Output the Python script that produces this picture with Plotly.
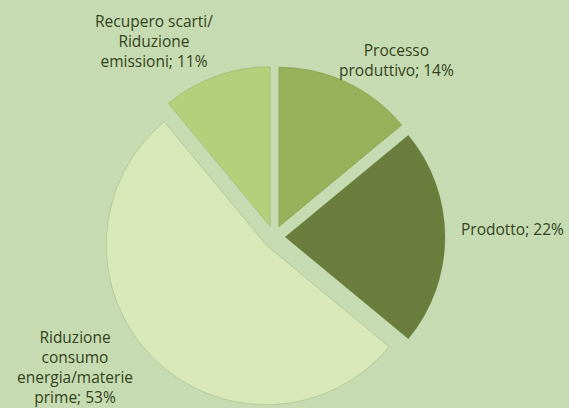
import plotly.graph_objects as go

# Slices, clockwise from 12 o'clock
labels = ["Processo produttivo", "Prodotto", "Riduzione consumo energia/materie prime", "Recupero scarti/ Riduzione emissioni"]
values = [14, 22, 53, 11]
colors = ["#97b05a", "#6a7d3c", "#d9e8b8", "#b5d07a"]

# Wrapped label lines (as printed next to each slice)
label_lines = [
    ["Processo", "produttivo; {v}%"],
    ["Prodotto; {v}%"],
    ["Riduzione", "consumo", "energia/materie", "prime; {v}%"],
    ["Recupero scarti/", "Riduzione", "emissioni; {v}%"],
]
label_pos = [(0.697, 0.852), (0.900, 0.439), (0.132, 0.100), (0.271, 0.8995)]

BG = "#c6dbb1"
TEXT = "#34421e"

W, H = 569, 408

fig = go.Figure(go.Pie(
    labels=labels,
    values=values,
    sort=False,
    direction="clockwise",
    rotation=0,
    pull=[0.07] * len(values),
    marker=dict(colors=colors, line=dict(color="rgba(90,110,50,0.35)", width=0.6)),
    textinfo="none",
    hoverinfo="label+percent",
    domain=dict(x=[0.18102, 0.78207], y=[0.0, 0.83824]),
))

for lines, v, (px, py) in zip(label_lines, values, label_pos):
    fig.add_annotation(
        x=px, y=py, xref="paper", yref="paper",
        text="<br>".join(l.format(v=v) for l in lines),
        showarrow=False, align="center",
        font=dict(family="Open Sans", size=15.5, color=TEXT),
        xanchor="center", yanchor="middle",
    )

fig.update_layout(
    width=W, height=H,
    margin=dict(l=0, r=0, t=0, b=0),
    paper_bgcolor=BG, plot_bgcolor=BG,
    showlegend=False,
)

fig.write_html("out.html")
